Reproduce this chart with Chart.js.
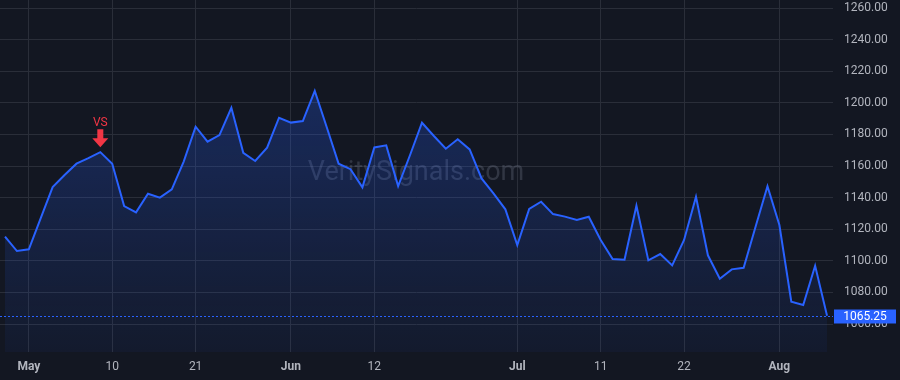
<!DOCTYPE html>
<html>
<head>
<meta charset="utf-8">
<script src="https://cdn.jsdelivr.net/npm/chart.js@4.4.1/dist/chart.umd.min.js"></script>
<style>
  html, body { margin: 0; padding: 0; background: #131722; }
  #wrap { width: 900px; height: 380px; position: relative; }
</style>
</head>
<body>
<div id="wrap"><canvas id="chart"></canvas></div>
<script>
// trading days, Apr 29 - Aug 7 2024
const dates = [
  '2024-04-29','2024-04-30','2024-05-01','2024-05-02','2024-05-03','2024-05-06','2024-05-07','2024-05-08','2024-05-09','2024-05-10',
  '2024-05-13','2024-05-14','2024-05-15','2024-05-16','2024-05-17','2024-05-20','2024-05-21','2024-05-22','2024-05-23','2024-05-24',
  '2024-05-28','2024-05-29','2024-05-30','2024-05-31','2024-06-03','2024-06-04','2024-06-05','2024-06-06','2024-06-07','2024-06-10',
  '2024-06-11','2024-06-12','2024-06-13','2024-06-14','2024-06-17','2024-06-18','2024-06-20','2024-06-21','2024-06-24','2024-06-25',
  '2024-06-26','2024-06-27','2024-06-28','2024-07-01','2024-07-02','2024-07-03','2024-07-05','2024-07-08','2024-07-09','2024-07-10',
  '2024-07-11','2024-07-12','2024-07-15','2024-07-16','2024-07-17','2024-07-18','2024-07-19','2024-07-22','2024-07-23','2024-07-24',
  '2024-07-25','2024-07-26','2024-07-29','2024-07-30','2024-07-31','2024-08-01','2024-08-02','2024-08-05','2024-08-06','2024-08-07'
];
const closes = [
  1115.3, 1106.2, 1107.3, 1127.0, 1146.7, 1154.3, 1161.5, 1165.0, 1168.8, 1161.5,
  1134.7, 1130.7, 1142.5, 1140.0, 1145.2, 1162.8, 1184.9, 1175.4, 1179.6, 1196.9,
  1168.4, 1163.2, 1171.6, 1190.6, 1187.5, 1188.5, 1207.6, 1184.7, 1161.5, 1158.0,
  1146.5, 1171.8, 1173.1, 1147.3, 1167.0, 1187.4, 1179.0, 1171.0, 1177.0, 1170.5,
  1152.2, 1142.7, 1132.6, 1110.0, 1132.8, 1137.4, 1129.6, 1128.0, 1125.8, 1127.9,
  1113.2, 1101.1, 1100.7, 1134.9, 1100.3, 1104.3, 1097.1, 1113.2, 1140.6, 1103.5,
  1088.7, 1094.6, 1095.6, 1121.6, 1147.3, 1122.7, 1074.1, 1072.0, 1096.9, 1065.25
];

// x axis labels (index into dates)
const xTickIdx = [2, 9, 16, 24, 31, 43, 50, 57, 65];
const xTickText = ['May', '10', '21', 'Jun', '12', 'Jul', '11', '22', 'Aug'];
const yTicks = [1060, 1080, 1100, 1120, 1140, 1160, 1180, 1200, 1220, 1240, 1260];

const signalIdx = 8;   // VS marker
const signalText = 'VS';
const lastPrice = closes[closes.length - 1];

const BLUE = '#2962ff';
const GRID = '#2a2e39';
const TEXT = '#b2b5be';
const FONT = 'Roboto, "Liberation Sans", Arial, sans-serif';

const overlay = {
  id: 'overlay',
  beforeDatasetsDraw(chart) {
    const { ctx } = chart;
    ctx.save();
    ctx.font = '27px ' + FONT;
    ctx.fillStyle = 'rgba(120,126,145,0.3)';
    ctx.textAlign = 'center';
    ctx.textBaseline = 'middle';
    ctx.fillText('VeritySignals.com', 416, 173);
    ctx.restore();
  },
  afterDraw(chart) {
    const { ctx, chartArea, scales } = chart;
    const x = scales.x, y = scales.y;

    // last price line
    const py = Math.round(y.getPixelForValue(lastPrice)) + 0.5;
    ctx.save();
    ctx.strokeStyle = BLUE;
    ctx.lineWidth = 1;
    ctx.setLineDash([2, 2]);
    ctx.beginPath();
    ctx.moveTo(chartArea.left, py);
    ctx.lineTo(chartArea.right, py);
    ctx.stroke();
    ctx.setLineDash([]);
    ctx.fillStyle = BLUE;
    ctx.fillRect(chartArea.right + 1, py - 7, 62, 14);
    ctx.fillStyle = '#ffffff';
    ctx.font = '12px ' + FONT;
    ctx.textAlign = 'center';
    ctx.textBaseline = 'middle';
    ctx.fillText(lastPrice.toFixed(2), chartArea.right + 32, py + 0.5);

    // signal marker
    const sx = x.getPixelForValue(signalIdx);
    const sy = y.getPixelForValue(closes[signalIdx]);
    const tip = sy - 5;
    ctx.fillStyle = '#f23645';
    ctx.beginPath();
    ctx.moveTo(sx - 3, tip - 18);
    ctx.lineTo(sx + 3, tip - 18);
    ctx.lineTo(sx + 3, tip - 9);
    ctx.lineTo(sx + 8, tip - 9);
    ctx.lineTo(sx, tip);
    ctx.lineTo(sx - 8, tip - 9);
    ctx.lineTo(sx - 3, tip - 9);
    ctx.closePath();
    ctx.fill();
    ctx.font = '12px ' + FONT;
    ctx.textBaseline = 'alphabetic';
    ctx.fillText(signalText, sx, tip - 21);
    ctx.restore();
  }
};

const ctx = document.getElementById('chart').getContext('2d');
new Chart(ctx, {
  type: 'line',
  data: {
    labels: dates,
    datasets: [{
      data: closes.map((v, i) => ({ x: i, y: v })),
      borderColor: BLUE,
      borderWidth: 2,
      pointRadius: 0,
      tension: 0,
      fill: 'start',
      backgroundColor: (c) => {
        const area = c.chart.chartArea;
        if (!area) return 'rgba(41,98,255,0.1)';
        const g = c.chart.ctx.createLinearGradient(0, area.top + 80, 0, area.bottom);
        g.addColorStop(0, 'rgba(41,98,255,0.27)');
        g.addColorStop(1, 'rgba(41,98,255,0.05)');
        return g;
      }
    }]
  },
  options: {
    responsive: true,
    maintainAspectRatio: false,
    animation: false,
    layout: { padding: 0, autoPadding: false },
    plugins: {
      legend: { display: false },
      tooltip: { enabled: false }
    },
    scales: {
      x: {
        type: 'linear',
        min: -0.42,
        max: 69.5,
        afterBuildTicks: (s) => { s.ticks = xTickIdx.map(v => ({ value: v })); },
        afterFit: (s) => { s.height = 28; s.paddingLeft = 0; s.paddingRight = 0; },
        grid: { color: GRID, drawTicks: false },
        border: { display: false },
        ticks: {
          autoSkip: false,
          maxRotation: 0,
          padding: 8,
          color: TEXT,
          font: (c) => ({
            family: FONT,
            size: 12,
            weight: /^[A-Z]/.test(xTickText[c.index] || '') ? 'bold' : 'normal'
          }),
          callback: (v) => xTickText[xTickIdx.indexOf(v)]
        }
      },
      y: {
        position: 'right',
        min: 1042.3,
        max: 1265.1,
        afterBuildTicks: (s) => { s.ticks = yTicks.map(v => ({ value: v })); },
        afterFit: (s) => { s.width = 67; s.paddingTop = 0; s.paddingBottom = 0; },
        grid: { color: GRID, drawTicks: false },
        border: { display: false },
        ticks: {
          padding: 11,
          color: TEXT,
          font: { family: FONT, size: 12 },
          callback: (v) => v.toFixed(2)
        }
      }
    }
  },
  plugins: [overlay]
});
</script>
</body>
</html>
